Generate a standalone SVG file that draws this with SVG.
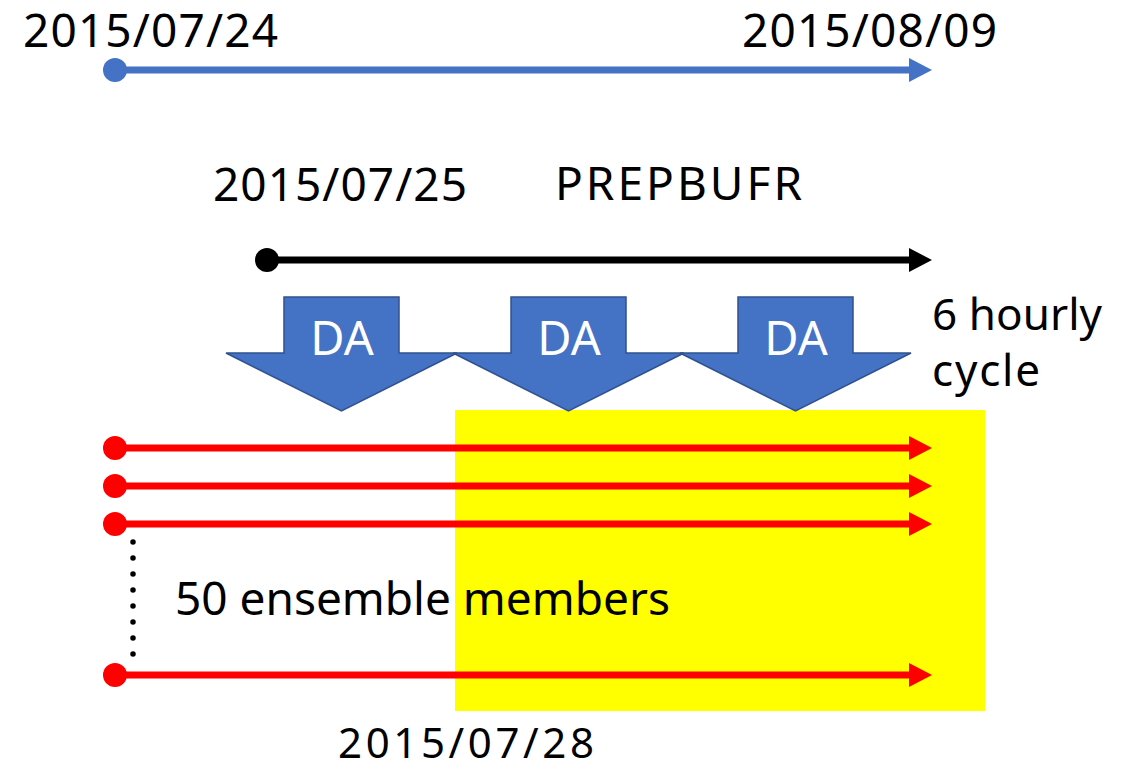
<svg xmlns="http://www.w3.org/2000/svg" width="1130" height="770" viewBox="0 0 1130 770">
  <style>
    .lbl { font-family: "Noto Sans", "Liberation Sans", sans-serif; font-size: 46px; fill: #000; }
    .sm { font-size: 44px; }
    .xs { font-size: 42px; }
    .da-shape { fill: #4472C4; stroke: #2F528F; stroke-width: 1.5; stroke-linejoin: miter; }
    .da-text { font-family: "Noto Sans", "Liberation Sans", sans-serif; font-size: 47px; fill: #fff; text-anchor: middle; }
    .tl { fill: none; stroke-width: 7; }
  </style>
  <defs>
    <marker id="headBlue" markerUnits="userSpaceOnUse" markerWidth="24" markerHeight="26" refX="0" refY="12" orient="auto" overflow="visible">
      <path d="M0,0 L23,12 L0,24 Z" fill="#4472C4"/>
    </marker>
    <marker id="headBlack" markerUnits="userSpaceOnUse" markerWidth="24" markerHeight="26" refX="0" refY="12" orient="auto" overflow="visible">
      <path d="M0,0 L23,12 L0,24 Z" fill="#000"/>
    </marker>
    <marker id="headRed" markerUnits="userSpaceOnUse" markerWidth="24" markerHeight="26" refX="0" refY="12" orient="auto" overflow="visible">
      <path d="M0,0 L23,12 L0,24 Z" fill="#FF0000"/>
    </marker>
    <marker id="dotBlue" markerUnits="userSpaceOnUse" markerWidth="26" markerHeight="26" refX="0" refY="0" overflow="visible">
      <circle cx="0" cy="0" r="12" fill="#4472C4"/>
    </marker>
    <marker id="dotBlack" markerUnits="userSpaceOnUse" markerWidth="26" markerHeight="26" refX="0" refY="0" overflow="visible">
      <circle cx="0" cy="0" r="12" fill="#000"/>
    </marker>
    <marker id="dotRed" markerUnits="userSpaceOnUse" markerWidth="26" markerHeight="26" refX="0" refY="0" overflow="visible">
      <circle cx="0" cy="0" r="12" fill="#FF0000"/>
    </marker>
  </defs>

  <rect width="1130" height="770" fill="#fff"/>

  <!-- highlighted period -->
  <rect id="window" x="455" y="410" width="530" height="301" fill="#FFFF00"/>

  <!-- labels -->
  <g id="labels">
    <text class="lbl" x="23" y="47" textLength="255">2015/07/24</text>
    <text class="lbl" x="742" y="47" textLength="255">2015/08/09</text>
    <text class="lbl" x="213" y="201" textLength="254">2015/07/25</text>
    <text class="lbl" x="555" y="200" textLength="247">PREPBUFR</text>
    <text class="lbl sm" x="932" y="330" textLength="170">6 hourly</text>
    <text class="lbl sm" x="932" y="386" textLength="108">cycle</text>
    <text class="lbl" x="175" y="615" textLength="495">50 ensemble members</text>
    <text class="lbl xs" x="338" y="758" textLength="256">2015/07/28</text>
  </g>

  <!-- assimilation steps -->
  <g id="da1">
    <polygon class="da-shape" points="284,297 399,297 399,353 457,353 341.5,411 226,353 284,353"/>
    <text class="da-text" x="342" y="355">DA</text>
  </g>
  <g id="da2">
    <polygon class="da-shape" points="511,297 626,297 626,353 684,353 568.5,411 453,353 511,353"/>
    <text class="da-text" x="569" y="355">DA</text>
  </g>
  <g id="da3">
    <polygon class="da-shape" points="738,297 853,297 853,353 911,353 795.5,411 680,353 738,353"/>
    <text class="da-text" x="796" y="355">DA</text>
  </g>

  <!-- timelines -->
  <g id="connectors">
    <line class="tl" x1="115" y1="70" x2="909" y2="70" stroke="#4472C4" marker-start="url(#dotBlue)" marker-end="url(#headBlue)"/>
    <line class="tl" x1="267" y1="260" x2="909" y2="260" stroke="#000" marker-start="url(#dotBlack)" marker-end="url(#headBlack)"/>
    <line class="tl" x1="115" y1="448" x2="909" y2="448" stroke="#FF0000" marker-start="url(#dotRed)" marker-end="url(#headRed)"/>
    <line class="tl" x1="115" y1="486" x2="909" y2="486" stroke="#FF0000" marker-start="url(#dotRed)" marker-end="url(#headRed)"/>
    <line class="tl" x1="115" y1="524" x2="909" y2="524" stroke="#FF0000" marker-start="url(#dotRed)" marker-end="url(#headRed)"/>
    <line class="tl" x1="115" y1="675" x2="909" y2="675" stroke="#FF0000" marker-start="url(#dotRed)" marker-end="url(#headRed)"/>
    <line x1="133" y1="542" x2="133" y2="670" stroke="#000" stroke-width="5.5" stroke-linecap="round" stroke-dasharray="0 16"/>
  </g>
</svg>
